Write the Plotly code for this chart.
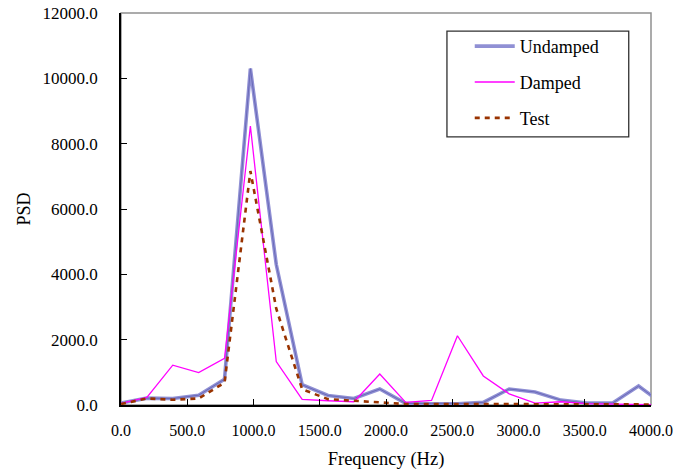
import plotly.graph_objects as go

# Frequency bins (Hz)
freq = [k * 195.3125 for k in range(22)]

undamped = [60, 210, 200, 300, 790, 10300, 4300, 620, 290, 200, 490, 50,
            40, 40, 80, 490, 400, 150, 60, 60, 580, 0]
damped = [50, 230, 1220, 990, 1430, 8540, 1330, 170, 130, 100, 950, 80,
          140, 2120, 890, 340, 60, 100, 40, 30, 20, 0]
test = [30, 200, 160, 200, 680, 7160, 2950, 480, 180, 130, 90, 30,
        30, 30, 30, 30, 30, 30, 20, 20, 20, 0]

x_ticks = [0, 500, 1000, 1500, 2000, 2500, 3000, 3500, 4000]
y_ticks = [0, 2000, 4000, 6000, 8000, 10000, 12000]

FONT = "Liberation Serif, Times New Roman, serif"

fig = go.Figure()
fig.add_trace(go.Scatter(x=freq, y=undamped, mode="lines", name="Undamped",
                         line=dict(color="#9090d4", width=3.6), legendgroup="a"))
fig.add_trace(go.Scatter(x=freq, y=undamped, mode="lines", showlegend=False,
                         line=dict(color="#6a6ab8", width=1), legendgroup="a",
                         hoverinfo="skip"))
fig.add_trace(go.Scatter(x=freq, y=damped, mode="lines", name="Damped",
                         line=dict(color="#ff00ff", width=1.3), legendgroup="b"))
fig.add_trace(go.Scatter(x=freq, y=test, mode="lines", name="Test",
                         line=dict(color="#993300", width=2.6, dash="5px,5px"),
                         legendgroup="c"))

fig.update_layout(
    width=673, height=475,
    margin=dict(l=121, r=22, t=13, b=70, autoexpand=False),
    paper_bgcolor="white", plot_bgcolor="white",
    font=dict(family=FONT, color="black"),
    showlegend=True,
    legend=dict(x=0.658, y=0.962, xanchor="left", yanchor="top",
                bgcolor="rgba(0,0,0,0)", borderwidth=0,
                font=dict(size=18, family=FONT), tracegroupgap=9.5,
                itemwidth=40),
    shapes=[
        dict(type="rect", xref="paper", yref="paper", x0=0, x1=1, y0=0, y1=1,
             line=dict(color="#909090", width=1.5), layer="below"),
        dict(type="rect", xref="paper", yref="paper", x0=0.615, x1=0.958,
             y0=0.684, y1=0.954, line=dict(color="#303030", width=1.3),
             fillcolor="rgba(0,0,0,0)"),
    ],
)
fig.update_xaxes(
    range=[0, 4000], tickvals=x_ticks, automargin=False,
    ticktext=[f"{v:.1f}" for v in x_ticks],
    showgrid=False, zeroline=False, showline=True, linecolor="black",
    linewidth=1.5, ticks="inside", ticklen=6, tickcolor="black",
    tickfont=dict(size=16, family=FONT), ticklabelstandoff=10,
    title=dict(text="Frequency (Hz)", font=dict(size=18.5, family=FONT),
               standoff=14),
)
fig.update_yaxes(
    range=[0, 12000], tickvals=y_ticks, automargin=False,
    ticktext=[f"{v:.1f}" for v in y_ticks],
    showgrid=False, zeroline=False, showline=True, linecolor="black",
    linewidth=1.5, ticks="inside", ticklen=6, tickcolor="black",
    tickfont=dict(size=17, family=FONT), ticklabelstandoff=18,
    title=dict(text="PSD", font=dict(size=18, family=FONT), standoff=7),
)

fig.write_html("out.html",
               config={"displayModeBar": False},
               post_script="document.body.style.margin='0';")
